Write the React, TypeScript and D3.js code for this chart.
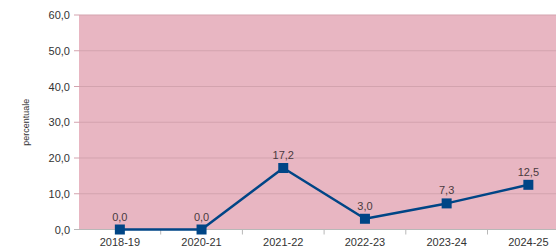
import React from 'react';
import * as d3 from 'd3';

const categories = ['2018-19', '2020-21', '2021-22', '2022-23', '2023-24', '2024-25'];
const values = [0.0, 0.0, 17.2, 3.0, 7.3, 12.5];
const yTicks = [0, 10, 20, 30, 40, 50, 60];

const fmt = (v: number) => v.toFixed(1).replace('.', ',');

export default function App() {
  const W = 556, H = 252;
  const left = 79, top = 15, bottom = 229.5;
  const band = 81.7;

  const x = d3.scaleBand<string>()
    .domain(categories)
    .range([left, left + band * categories.length])
    .padding(0);
  const y = d3.scaleLinear().domain([0, 60]).range([bottom, top]);
  const cx = (c: string) => (x(c) as number) + x.bandwidth() / 2;

  const line = d3.line<number>()
    .x((_, i) => cx(categories[i]))
    .y((d) => y(d));

  const font = '"Liberation Sans", Arial, sans-serif';

  return (
    <svg width={W} height={H} style={{ position: 'absolute', left: 0, top: 0 }}>
      <rect x={0} y={0} width={W} height={H} fill="#ffffff" />
      <rect x={left} y={top} width={W - left + 20} height={bottom - top} fill="#e8b6c2" />
      {yTicks.map((t) => (
        <g key={t}>
          <line x1={left - 5} x2={W} y1={y(t)} y2={y(t)} stroke={t === 0 ? '#b8b8b8' : '#d3a3ae'} strokeWidth={1} />
          <text x={70} y={y(t) + 4} textAnchor="end" fontFamily={font} fontSize={11} fill="#333333">{fmt(t)}</text>
        </g>
      ))}
      {categories.map((c, i) => (
        <g key={c}>
          {i > 0 && (
            <line x1={x(c) as number} x2={x(c) as number} y1={bottom} y2={bottom + 5} stroke="#b8b8b8" />
          )}
          <text x={cx(c)} y={246} textAnchor="middle" fontFamily={font} fontSize={11} fill="#333333">{c}</text>
        </g>
      ))}
      <text transform={`translate(29,${(top + bottom) / 2}) rotate(-90)`} textAnchor="middle" fontFamily={font} fontSize={9} fill="#333333">percentuale</text>
      <path d={line(values) || ''} fill="none" stroke="#004586" strokeWidth={2.5} strokeLinejoin="round" />
      {values.map((v, i) => (
        <g key={i}>
          <rect x={cx(categories[i]) - 5} y={y(v) - 5} width={10} height={10} fill="#004586" />
          <text x={cx(categories[i])} y={y(v) - 9} textAnchor="middle" fontFamily={font} fontSize={11} fill="#4a3a3e">{fmt(v)}</text>
        </g>
      ))}
    </svg>
  );
}
